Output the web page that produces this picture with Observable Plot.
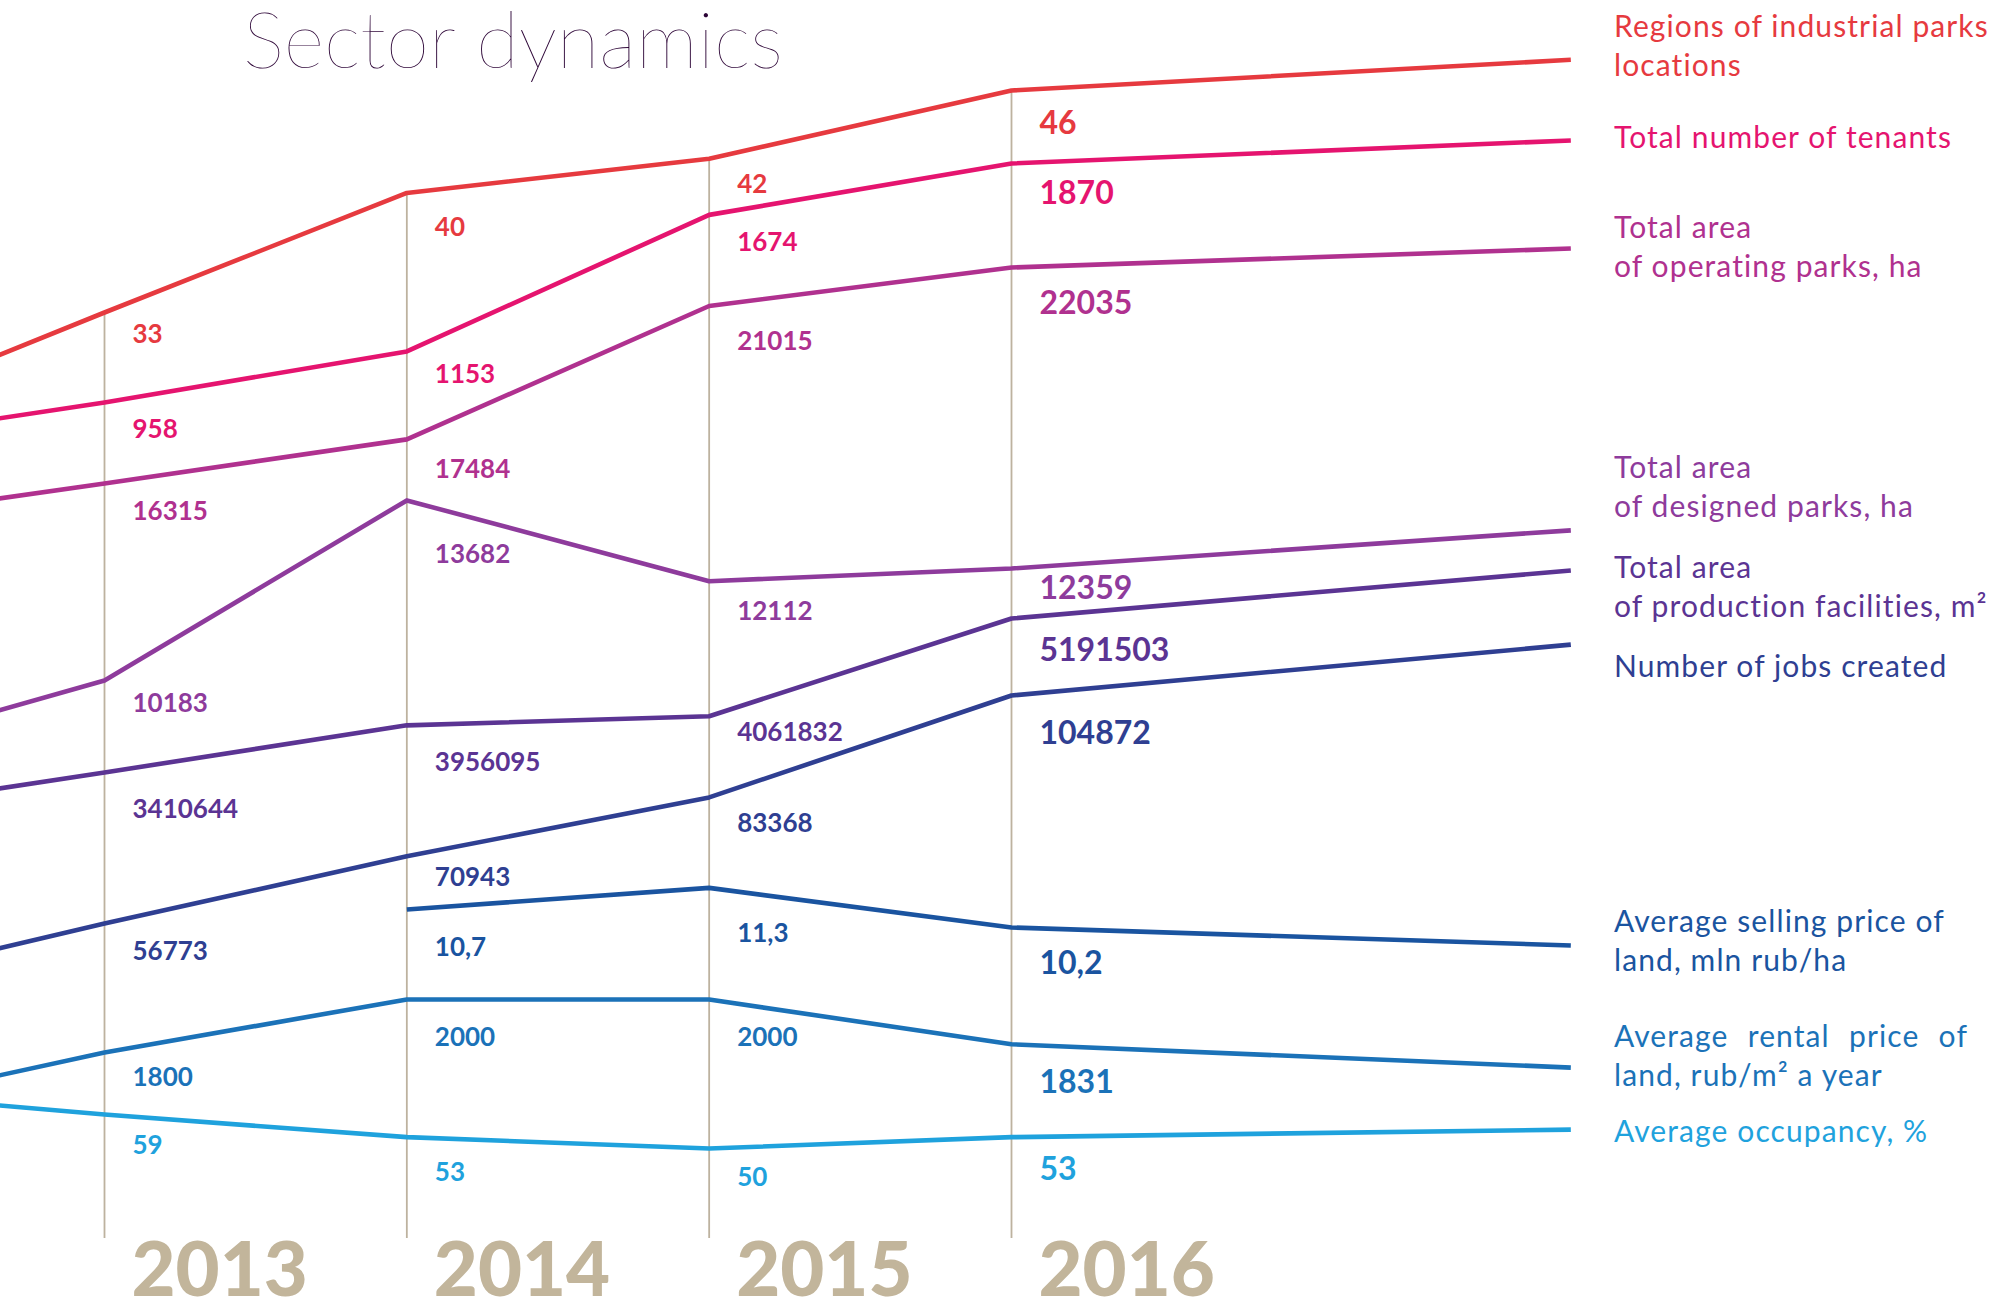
<!DOCTYPE html>
<html>
<head>
<meta charset="utf-8">
<script src="https://cdn.jsdelivr.net/npm/d3@7"></script>
<script src="https://cdn.jsdelivr.net/npm/@observablehq/plot@0.6"></script>
<style>
  html, body { margin: 0; padding: 0; background: #ffffff; }
  #chart { position: relative; width: 1992px; height: 1302px; overflow: hidden; font-family: Lato, "Open Sans", sans-serif; background: #ffffff; }
  #chart svg { position: absolute; left: 0; top: 0; }
  .title { position: absolute; left: 243px; top: 0px; margin: 0; font-family: Lato, sans-serif; font-weight: 200; font-size: 78px; line-height: 76px; color: #2c0436; white-space: nowrap; }
  .legend { position: absolute; left: 1614px; font-family: Lato, sans-serif; font-size: 30px; letter-spacing: 1.1px; line-height: 38.5px; white-space: nowrap; }
  .legend .just { text-align: justify; text-align-last: justify; width: 354px; }
</style>
</head>
<body>
<div id="chart"></div>
<script>
// ---------- data ----------
const years = [2013, 2014, 2015, 2016];
const regions = [33, 40, 42, 46];
const tenants = [958, 1153, 1674, 1870];
const operatingArea = [16315, 17484, 21015, 22035];
const designedArea = [10183, 13682, 12112, 12359];
const productionArea = [3410644, 3956095, 4061832, 5191503];
const jobsCreated = [56773, 70943, 83368, 104872];
const sellingPrice = [null, 10.7, 11.3, 10.2];
const rentalPrice = [1800, 2000, 2000, 1831];
const occupancy = [59, 53, 50, 53];

// estimated values where each line enters at the left edge / ends on the right
const lineStart = [30.5, 897, 15918, 9600, 3225600, 51500, null, 1713, 61.4];
const lineEnd   = [47.8, 1958, 22538, 13100, 5746600, 115600, 9.7, 1743, 55.0];

const seriesNames = [
  "Regions of industrial parks\nlocations",
  "Total number of tenants",
  "Total area\nof operating parks, ha",
  "Total area\nof designed parks, ha",
  "Total area\nof production facilities, m²",
  "Number of jobs created",
  "Average selling price of\nland, mln rub/ha",
  "Average rental price of\nland, rub/m² a year",
  "Average occupancy, %"
];
const seriesValues = [regions, tenants, operatingArea, designedArea, productionArea, jobsCreated, sellingPrice, rentalPrice, occupancy];

// ---------- layout / style ----------
const W = 1992, H = 1302;
const X_SCALE = {domain: [2013, 2016], range: [104, 1011]};
const X_START = 2012.65, X_END = 2017.85;
const GRID_BOTTOM_PX = 1238;
const LAST_YEAR = 2016;
const layout = [
  {color: "#e63a3f", y: {domain: [33, 46], range: [312, 90]}, labelDy: [22, 35, 26, 33], legendTop: 6},
  {color: "#e5146f", y: {domain: [958, 1870], range: [402, 163]}, labelDy: [27, 23, 28, 30], legendTop: 117},
  {color: "#b0318f", y: {domain: [16315, 22035], range: [483, 267]}, labelDy: [28, 30, 36, 36], legendTop: 207},
  {color: "#8e3b9c", y: {domain: [10183, 12359], range: [680, 568]}, labelDy: [23, 54, 30, 20], legendTop: 447},
  {color: "#5b3493", y: {domain: [3410644, 5191503], range: [772, 618]}, labelDy: [37, 37, 16, 32], legendTop: 547},
  {color: "#2f3f92", y: {domain: [56773, 104872], range: [923, 695]}, labelDy: [28, 21, 26, 38], legendTop: 646},
  {color: "#1a54a0", y: {domain: [10.7, 10.2], range: [909, 927]}, labelDy: [0, 38, 46, 36], legendTop: 901},
  {color: "#1b72b8", y: {domain: [1800, 2000], range: [1052, 999]}, labelDy: [25, 38, 38, 38], legendTop: 1016, justify: true},
  {color: "#1fa2dd", y: {domain: [59, 50], range: [1114, 1148]}, labelDy: [31, 36, 29, 33], legendTop: 1111}
];
const GRID_COLOR = "#bdb29f";
const YEAR_COLOR = "#c2b59b";
const fmt = v => String(v).replace(".", ",");
const baseStyle = {background: "transparent", fontFamily: "Lato, sans-serif", overflow: "visible"};

const chart = document.getElementById("chart");

// gridlines + year labels (use the top series' scale so rules start at the top line)
const topY = layout[0].y;
const gridBottom = d3.scaleLinear(topY.domain, topY.range).invert(GRID_BOTTOM_PX);
chart.appendChild(Plot.plot({
  width: W, height: H, margin: 0,
  style: baseStyle,
  x: {...X_SCALE, axis: null},
  y: {...topY, axis: null},
  marks: [
    Plot.ruleX(years, {x: d => d, y1: (d, i) => regions[i], y2: gridBottom, stroke: GRID_COLOR, strokeWidth: 1.8}),
    Plot.text(years, {x: d => d, text: d => String(d), frameAnchor: "bottom", lineAnchor: "bottom", textAnchor: "start",
      dx: 27, dy: -7, fontSize: 76, fontWeight: 900, fill: YEAR_COLOR})
  ]
}));

// one overlay per series, each with its own y scale
seriesValues.forEach((vals, s) => {
  const L = layout[s];
  const pts = [];
  if (lineStart[s] != null) pts.push({year: X_START, v: lineStart[s]});
  years.forEach((yr, i) => { if (vals[i] != null) pts.push({year: yr, v: vals[i]}); });
  pts.push({year: X_END, v: lineEnd[s]});
  const labels = years.map((yr, i) => ({year: yr, v: vals[i], dy: L.labelDy[i]})).filter(d => d.v != null);
  chart.appendChild(Plot.plot({
    width: W, height: H, margin: 0,
    style: baseStyle,
    x: {...X_SCALE, axis: null},
    y: {...L.y, axis: null},
    marks: [
      Plot.line(pts, {x: "year", y: "v", stroke: L.color, strokeWidth: 4.6, strokeLinejoin: "round", strokeLinecap: "butt"}),
      ...labels.map(d => Plot.text([d], {x: "year", y: "v", text: e => fmt(e.v), dx: 28, dy: d.dy,
        textAnchor: "start", lineAnchor: "middle", fontSize: d.year === LAST_YEAR ? 32 : 26, fontWeight: 700, fill: L.color}))
    ]
  }));
});

// title
const title = document.createElement("h1");
title.className = "title";
title.textContent = "Sector dynamics";
chart.appendChild(title);

// legend labels on the right
seriesNames.forEach((name, s) => {
  const L = layout[s];
  const div = document.createElement("div");
  div.className = "legend";
  div.style.top = L.legendTop + "px";
  div.style.color = L.color;
  name.split("\n").forEach((line, k) => {
    const row = document.createElement("div");
    if (L.justify && k === 0) row.className = "just";
    row.textContent = line;
    div.appendChild(row);
  });
  chart.appendChild(div);
});
</script>
</body>
</html>
